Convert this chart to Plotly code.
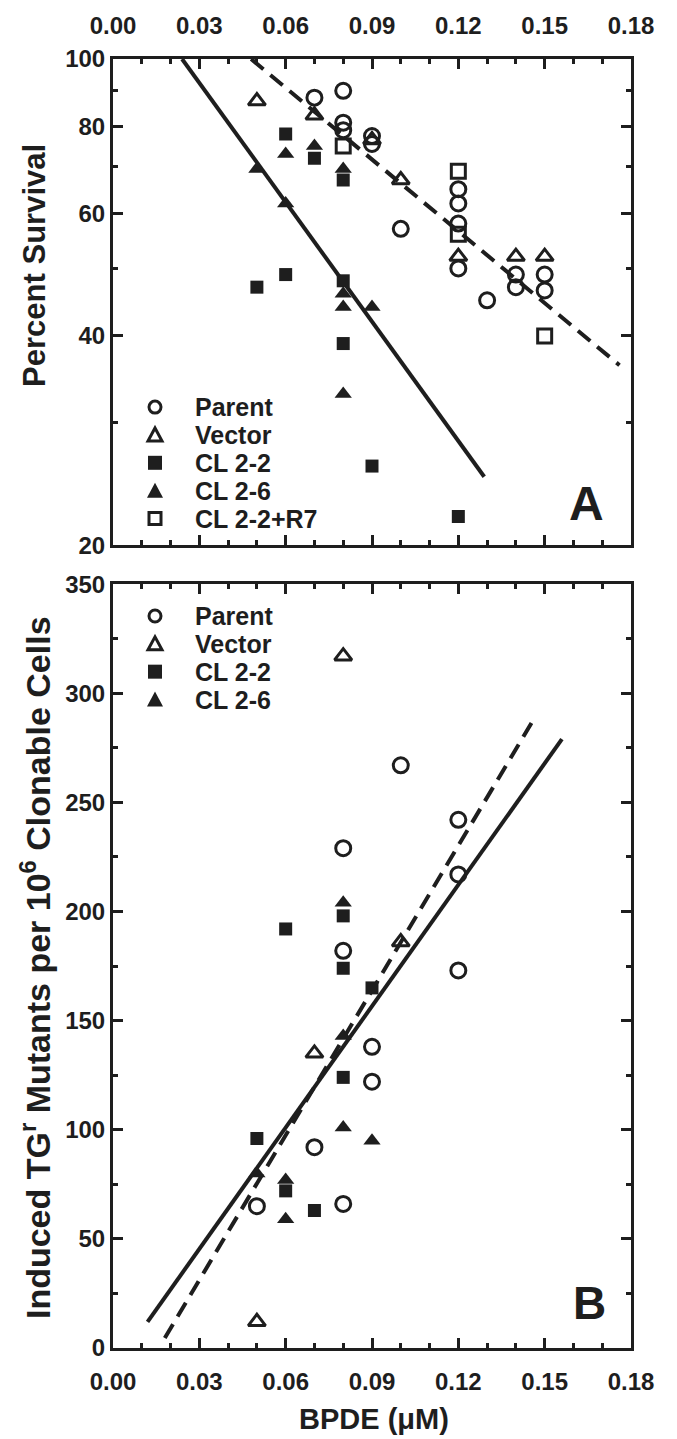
import plotly.graph_objects as go

# ---------------- Panel A data (Percent Survival) ----------------
parent_A_x = [0.07, 0.08, 0.08, 0.08, 0.09, 0.09, 0.10, 0.12, 0.12, 0.12, 0.12, 0.13, 0.14, 0.14, 0.15, 0.15]
parent_A_y = [88, 90, 81, 79, 77.5, 75.5, 57, 65, 62, 58, 50, 45, 49, 47, 49, 46.5]
vector_A_x = [0.05, 0.07, 0.09, 0.10, 0.12, 0.14, 0.15]
vector_A_y = [87, 83, 76.5, 67, 52, 52, 52]
cl22_A_x = [0.05, 0.06, 0.06, 0.07, 0.08, 0.08, 0.08, 0.09, 0.12]
cl22_A_y = [47, 78, 49, 72, 67, 48, 39, 26, 22]
cl26_A_x = [0.05, 0.06, 0.06, 0.07, 0.08, 0.08, 0.08, 0.08, 0.09]
cl26_A_y = [69.5, 73, 62, 75, 69.5, 46, 44, 33, 44]
r7_A_x = [0.08, 0.12, 0.12, 0.15]
r7_A_y = [75, 69, 56, 40]
fitA_solid_x = [0.024, 0.129]
fitA_solid_y = [100, 25.1]
fitA_dash_x = [0.048, 0.176]
fitA_dash_y = [100, 36.3]

# ---------------- Panel B data (Induced TGr mutants) ----------------
parent_B_x = [0.05, 0.07, 0.08, 0.08, 0.08, 0.09, 0.09, 0.10, 0.12, 0.12, 0.12]
parent_B_y = [65, 92, 229, 182, 66, 138, 122, 267, 242, 217, 173]
vector_B_x = [0.05, 0.07, 0.08, 0.10]
vector_B_y = [12, 135, 317, 186]
cl22_B_x = [0.05, 0.06, 0.06, 0.07, 0.08, 0.08, 0.08, 0.09]
cl22_B_y = [96, 192, 72, 63, 198, 174, 124, 165]
cl26_B_x = [0.05, 0.06, 0.06, 0.08, 0.08, 0.08, 0.09]
cl26_B_y = [80, 77, 59, 204, 143, 101, 95]
fitB_solid_x = [0.012, 0.156]
fitB_solid_y = [12, 279]
fitB_dash_x = [0.018, 0.1466]
fitB_dash_y = [4.6, 289]

x_tickvals = [0.00, 0.03, 0.06, 0.09, 0.12, 0.15, 0.18]
x_ticktext = ["0.00", "0.03", "0.06", "0.09", "0.12", "0.15", "0.18"]
yA_tickvals = [20, 40, 60, 80, 100]
yA_minor = [30, 50, 70, 90]
yB_tickvals = [0, 50, 100, 150, 200, 250, 300, 350]

legendA_labels = ["Parent", "Vector", "CL 2-2", "CL 2-6", "CL 2-2+R7"]
legendB_labels = ["Parent", "Vector", "CL 2-2", "CL 2-6"]

INK = "#1e1e1e"
FONT = "Liberation Sans"

# ---------------- layout geometry (pixels) ----------------
W, H = 677, 1439
ml, mr, mt, mb = 113, 46, 52, 91
plot_w = W - ml - mr
plot_h = H - mt - mb
def px2x(px):
    return (px - ml) / plot_w
def px2y(py):
    return 1 - (py - mt) / plot_h

fig = go.Figure()

STYLE = {
    "Parent": dict(symbol="circle-open", size=15, open=True),
    "Vector": dict(symbol="triangle-up-open", size=15, open=True),
    "CL 2-2": dict(symbol="square", size=13, open=False),
    "CL 2-6": dict(symbol="triangle-up", size=15, open=False),
    "CL 2-2+R7": dict(symbol="square-open", size=14, open=True),
}

def add_pts(x, y, name, xa, ya):
    st = STYLE[name]
    fig.add_trace(go.Scatter(
        x=x, y=y, mode="markers", name=name, xaxis=xa, yaxis=ya, showlegend=False,
        marker=dict(symbol=st["symbol"], size=st["size"], color=INK,
                    line=dict(color=INK, width=3 if st["open"] else 0)),
    ))

def add_line(x, y, xa, ya, dash):
    fig.add_trace(go.Scatter(
        x=x, y=y, mode="lines", xaxis=xa, yaxis=ya, showlegend=False,
        line=dict(color=INK, width=4, dash=dash),
    ))

add_line(fitA_solid_x, fitA_solid_y, "x", "y", "solid")
add_line(fitA_dash_x, fitA_dash_y, "x", "y", "16px,9px")
add_pts(parent_A_x, parent_A_y, "Parent", "x", "y")
add_pts(vector_A_x, vector_A_y, "Vector", "x", "y")
add_pts(cl22_A_x, cl22_A_y, "CL 2-2", "x", "y")
add_pts(cl26_A_x, cl26_A_y, "CL 2-6", "x", "y")
add_pts(r7_A_x, r7_A_y, "CL 2-2+R7", "x", "y")

add_line(fitB_solid_x, fitB_solid_y, "x2", "y2", "solid")
add_line(fitB_dash_x, fitB_dash_y, "x2", "y2", "16px,9px")
add_pts(parent_B_x, parent_B_y, "Parent", "x2", "y2")
add_pts(vector_B_x, vector_B_y, "Vector", "x2", "y2")
add_pts(cl22_B_x, cl22_B_y, "CL 2-2", "x2", "y2")
add_pts(cl26_B_x, cl26_B_y, "CL 2-6", "x2", "y2")

tickfont = dict(family=FONT, size=24, color=INK, weight="bold")
axis_common = dict(
    showline=True, linewidth=3, linecolor=INK, mirror="ticks",
    ticks="inside", ticklen=10, tickwidth=3, tickcolor=INK,
    showgrid=False, zeroline=False, tickfont=tickfont,
)
x_common = dict(axis_common, range=[0, 0.18], tickmode="array", tickvals=x_tickvals, ticktext=x_ticktext,
                minor=dict(dtick=0.01, tick0=0, ticks="inside", ticklen=5, tickwidth=3, tickcolor=INK))

# ---------------- hand-built legends (symbol shapes + labels) ----------------
shapes, annotations = [], []
def legend_symbol(name, cx, cy):
    base = dict(xref="paper", yref="paper", xsizemode="pixel", ysizemode="pixel",
                xanchor=px2x(cx), yanchor=px2y(cy), line=dict(color=INK, width=3))
    if name == "Parent":
        shapes.append(dict(base, type="circle", x0=-6, x1=6, y0=-6, y1=6))
    elif name == "CL 2-2+R7":
        shapes.append(dict(base, type="rect", x0=-6, x1=6, y0=-6, y1=6))
    elif name == "CL 2-2":
        shapes.append(dict(base, type="rect", x0=-7, x1=7, y0=-7, y1=7, fillcolor=INK, line=dict(width=0)))
    elif name == "Vector":
        shapes.append(dict(base, type="path", path="M -7,-6 L 7,-6 L 0,7 Z"))
    elif name == "CL 2-6":
        shapes.append(dict(base, type="path", path="M -8,-7 L 8,-7 L 0,8 Z", fillcolor=INK, line=dict(width=0)))

def legend_block(labels, rows_px):
    for lab, ry in zip(labels, rows_px):
        legend_symbol(lab, 155, ry)
        annotations.append(dict(text=lab, x=px2x(193), y=px2y(ry), xref="paper", yref="paper",
                                xanchor="left", yanchor="middle", showarrow=False,
                                font=dict(family=FONT, size=25, weight="bold", color=INK)))

legend_block(legendA_labels, [402, 430, 458, 486, 514])
legend_block(legendB_labels, [612, 640, 668, 696])

annotations += [
    dict(text="A", x=px2x(606), y=px2y(499), xref="paper", yref="paper", xanchor="right", yanchor="middle",
         showarrow=False, font=dict(family=FONT, size=48, weight="bold", color=INK)),
    dict(text="B", x=px2x(608), y=px2y(1303), xref="paper", yref="paper", xanchor="right", yanchor="middle",
         showarrow=False, font=dict(family=FONT, size=46, weight="bold", color=INK)),
    dict(text="Percent Survival", x=px2x(35), y=px2y(260), xref="paper", yref="paper", textangle=-90,
         xanchor="center", yanchor="middle", showarrow=False,
         font=dict(family=FONT, size=31, weight="bold", color=INK)),
    dict(text="Induced TG<sup>r</sup> Mutants per 10<sup>6</sup> Clonable Cells", x=px2x(35), y=px2y(966),
         xref="paper", yref="paper", textangle=-90, xanchor="center", yanchor="middle", showarrow=False,
         font=dict(family=FONT, size=34, weight="bold", color=INK)),
    dict(text="BPDE (μM)", x=px2x(374), y=px2y(1419), xref="paper", yref="paper",
         xanchor="center", yanchor="middle", showarrow=False,
         font=dict(family=FONT, size=29, weight="bold", color=INK)),
]

fig.update_layout(
    width=W, height=H,
    margin=dict(l=ml, r=mr, t=mt, b=mb),
    paper_bgcolor="white", plot_bgcolor="white",
    font=dict(family=FONT, color=INK),
    showlegend=False,
    xaxis=dict(x_common, domain=[0, 1], anchor="y", side="top", ticklabelstandoff=12),
    yaxis=dict(axis_common, type="log", domain=[px2y(541), 1], anchor="x",
               range=[1.30103, 2], tickmode="array", tickvals=yA_tickvals,
               ticktext=[str(v) for v in yA_tickvals], ticklabelstandoff=0,
               minor=dict(tickmode="array", tickvals=yA_minor, ticks="inside", ticklen=5, tickwidth=3, tickcolor=INK)),
    xaxis2=dict(x_common, domain=[0, 1], anchor="y2", side="bottom", ticklabelstandoff=10),
    yaxis2=dict(axis_common, domain=[0, px2y(580)], anchor="x2", range=[0, 350],
                tickmode="array", tickvals=yB_tickvals, ticklabelstandoff=0,
                minor=dict(dtick=25, tick0=0, ticks="inside", ticklen=5, tickwidth=3, tickcolor=INK)),
    shapes=shapes,
    annotations=annotations,
)

fig.write_html("out.html", config={"displayModeBar": False},
               post_script="document.body.style.margin='0';")
